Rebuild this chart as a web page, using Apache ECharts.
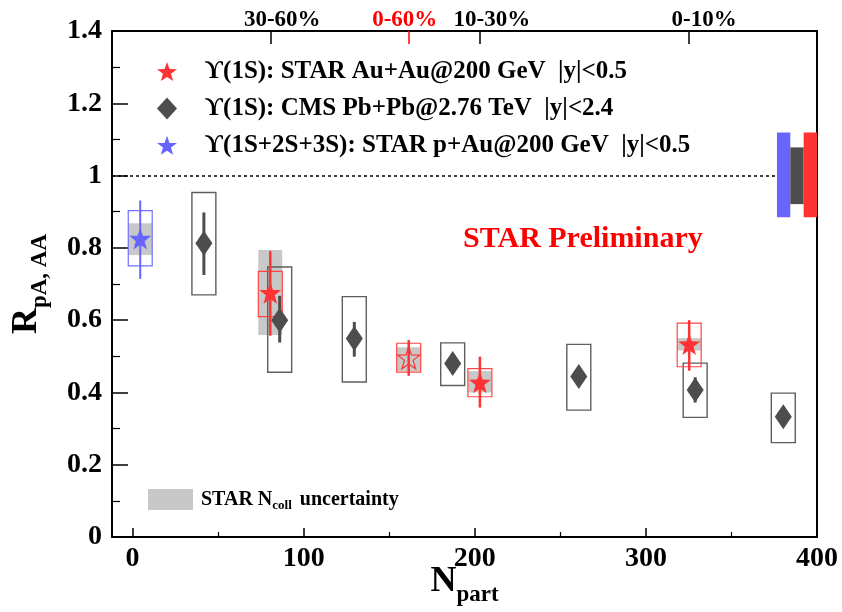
<!DOCTYPE html>
<html><head><meta charset="utf-8">
<script src="https://cdn.jsdelivr.net/npm/echarts@6/dist/echarts.min.js"></script>
<style>html,body{margin:0;padding:0;background:#fff}#c{width:842px;height:612px}</style>
</head><body><div id="c"></div><script>
// ---------------- data ----------------
// STAR Au+Au 200 GeV, Upsilon(1S), centrality bins 30-60%, 10-30%, 0-10%
const auauNpart   = [80.5, 203.0, 325.3];
const auauRaa     = [0.676, 0.428, 0.534];
const auauStatLo  = [0.557, 0.358, 0.460];
const auauStatHi  = [0.791, 0.499, 0.600];
const auauSysLo   = [0.610, 0.388, 0.471];
const auauSysHi   = [0.735, 0.466, 0.592];
const auauNcollLo = [0.559, 0.400, 0.516];
const auauNcollHi = [0.794, 0.459, 0.550];
const auauCentLabels = ['30-60%', '10-30%', '0-10%'];
// STAR Au+Au 0-60% (open star)
const mbNpart   = [161.4];
const mbRaa     = [0.496];
const mbStatLo  = [0.446];
const mbStatHi  = [0.545];
const mbSysLo   = [0.456];
const mbSysHi   = [0.536];
const mbNcollLo = [0.459];
const mbNcollHi = [0.525];
const mbLabels  = ['0-60%'];
// CMS Pb+Pb 2.76 TeV
const cmsNpart  = [41.7, 86.0, 129.6, 187.1, 260.8, 328.8, 380.3];
const cmsRaa    = [0.813, 0.600, 0.549, 0.480, 0.444, 0.407, 0.333];
const cmsStatLo = [0.725, 0.538, 0.499, 0.455, 0.420, 0.372, 0.313];
const cmsStatHi = [0.898, 0.667, 0.595, 0.505, 0.468, 0.442, 0.353];
const cmsSysLo  = [0.670, 0.456, 0.429, 0.419, 0.351, 0.331, 0.261];
const cmsSysHi  = [0.953, 0.747, 0.665, 0.537, 0.533, 0.481, 0.398];
// STAR p+Au 200 GeV, Upsilon(1S+2S+3S)
const pauNpart   = [4.5];
const pauRaa     = [0.826];
const pauStatLo  = [0.714];
const pauStatHi  = [0.931];
const pauSysLo   = [0.750];
const pauSysHi   = [0.903];
const pauNcollLo = [0.780];
const pauNcollHi = [0.868];
// global uncertainties around unity [lo, hi]
const globalPAu  = [0.885, 1.119];
const globalCms  = [0.921, 1.078];
const globalAuAu = [0.885, 1.119];
// axis ticks
const xMajorTicks = [0, 100, 200, 300, 400];
const xMinorTicks = [50, 150, 250, 350];

const nameAuAu = 'ϒ(1S): STAR Au+Au@200 GeV  |y|<0.5';
const nameCms  = 'ϒ(1S): CMS Pb+Pb@2.76 TeV  |y|<2.4';
const namePAu  = 'ϒ(1S+2S+3S): STAR p+Au@200 GeV  |y|<0.5';
const nameNcoll = 'STAR Ncoll uncertainty';

// ---------------- styling / helpers ----------------
const FONT = "'Liberation Serif', 'Times New Roman', serif";
const RED = '#ff3333', BLUE = '#6666ff', DARK = '#4d4d4d';
const X_MIN = -12, X_MAX = 400;
const HALF_W = 7;          // box half width (Npart units)
const GBAR_W = 7.8;        // global bar width (Npart units)
const STAR = 'path://M0,-10L2.35,-3.24L9.51,-3.09L3.8,1.24L5.88,8.09L0,4.2L-5.88,8.09L-3.8,1.24L-9.51,-3.09L-2.35,-3.24Z';

function triples(xs, lo, hi) { return xs.map((x, i) => [x, lo[i], hi[i]]); }
function boxSeries(name, xs, lo, hi, style, z) {
  return {
    type: 'custom', name: name, z: z, silent: true, itemStyle: { color: style.fill !== 'none' ? style.fill : style.stroke },
    data: triples(xs, lo, hi), encode: { x: 0, y: [1, 2] },
    renderItem: function (p, api) {
      const x = api.value(0);
      const a = api.coord([x - HALF_W, api.value(2)]);
      const b = api.coord([x + HALF_W, api.value(1)]);
      return { type: 'rect', shape: { x: a[0], y: a[1], width: b[0] - a[0], height: b[1] - a[1] }, style: style };
    }
  };
}
function errSeries(xs, lo, hi, color, width, z) {
  return {
    type: 'custom', z: z, silent: true, data: triples(xs, lo, hi), encode: { x: 0, y: [1, 2] },
    renderItem: function (p, api) {
      const a = api.coord([api.value(0), api.value(1)]);
      const b = api.coord([api.value(0), api.value(2)]);
      return { type: 'line', shape: { x1: a[0], y1: a[1], x2: b[0], y2: b[1] }, style: { stroke: color, lineWidth: width } };
    }
  };
}
function globalSeries(range, slot, color) {
  return {
    type: 'custom', z: 3, silent: true, data: [[range[0], range[1]]], encode: { y: [0, 1] },
    renderItem: function (p, api) {
      const x0 = X_MAX - (3 - slot) * GBAR_W;
      const a = api.coord([x0, api.value(1)]);
      const b = api.coord([x0 + GBAR_W, api.value(0)]);
      return { type: 'rect', shape: { x: a[0], y: a[1], width: b[0] - a[0], height: b[1] - a[1] }, style: { fill: color } };
    }
  };
}

const topLabelPad = [[0, 0, 0, 24], [0, 0, 0, 24], [0, 0, 0, 30]];
const topRich = {};
topLabelPad.forEach((pad, i) => { topRich['c' + i] = { padding: pad, fontFamily: FONT, fontWeight: 'bold', fontSize: 23, color: '#000' }; });

const chart = echarts.init(document.getElementById('c'), null, { renderer: 'canvas' });
chart.setOption({
  backgroundColor: '#fff',
  animation: false,
  grid: { left: 112, right: 25, top: 31, bottom: 75, containLabel: false, outerBoundsMode: 'none' },
  xAxis: [
    { type: 'value', position: 'bottom', min: X_MIN, max: X_MAX,
      name: '{n|N}{s|part}', nameLocation: 'middle', nameGap: 20, nameMoveOverlap: false,
      nameTextStyle: { rich: {
        n: { fontFamily: FONT, fontWeight: 'bold', fontSize: 36, color: '#000', lineHeight: 50, verticalAlign: 'middle' },
        s: { fontFamily: FONT, fontWeight: 'bold', fontSize: 23, color: '#000', lineHeight: 23, verticalAlign: 'bottom' } } },
      axisLine: { onZero: false, lineStyle: { color: '#000', width: 2 } },
      axisTick: { inside: true, length: 9, lineStyle: { color: '#000', width: 1.5 }, customValues: xMajorTicks },
      axisLabel: { customValues: xMajorTicks, margin: 8, fontFamily: FONT, fontWeight: 'bold', fontSize: 28, color: '#000' },
      splitLine: { show: false } },
    { type: 'value', position: 'bottom', min: X_MIN, max: X_MAX,
      axisLine: { show: false, onZero: false },
      axisTick: { inside: true, length: 5, lineStyle: { color: '#000', width: 1.2 }, customValues: xMinorTicks },
      axisLabel: { show: false }, splitLine: { show: false } },
    { type: 'value', position: 'top', min: X_MIN, max: X_MAX,
      axisLine: { onZero: false, lineStyle: { color: '#000', width: 2 } },
      axisTick: { inside: true, length: 13, lineStyle: { color: '#000', width: 1.5 }, customValues: auauNpart },
      axisLabel: { customValues: auauNpart, margin: -1, rich: topRich,
        formatter: function (v) { const i = auauNpart.indexOf(v); return '{c' + i + '|' + auauCentLabels[i] + '}'; } },
      splitLine: { show: false } },
    { type: 'value', position: 'top', min: X_MIN, max: X_MAX,
      axisLine: { show: false, onZero: false },
      axisTick: { inside: true, length: 13, lineStyle: { color: '#ff0000', width: 1.5 }, customValues: mbNpart },
      axisLabel: { customValues: mbNpart, margin: -1,
        rich: { r: { padding: [0, 8, 0, 0], fontFamily: FONT, fontWeight: 'bold', fontSize: 23, color: '#ff0000' } },
        formatter: function (v) { return '{r|' + mbLabels[0] + '}'; } },
      splitLine: { show: false } }
  ],
  yAxis: [
    { type: 'value', position: 'left', min: 0, max: 1.4, interval: 0.2,
      name: '{n|R}{s|pA, AA}', nameLocation: 'middle', nameRotate: 90, nameGap: 60, nameMoveOverlap: false,
      nameTextStyle: { rich: {
        n: { fontFamily: FONT, fontWeight: 'bold', fontSize: 36, color: '#000', lineHeight: 50, verticalAlign: 'middle' },
        s: { fontFamily: FONT, fontWeight: 'bold', fontSize: 23, color: '#000', lineHeight: 23, verticalAlign: 'bottom' } } },
      axisLine: { onZero: false, lineStyle: { color: '#000', width: 2 } },
      axisTick: { inside: true, length: 16, lineStyle: { color: '#000', width: 1.5 } },
      minorTick: { show: true, splitNumber: 2, length: 8, lineStyle: { color: '#000', width: 1.2 } },
      axisLabel: { margin: 10, fontFamily: FONT, fontWeight: 'bold', fontSize: 28, color: '#000' },
      splitLine: { show: false }, minorSplitLine: { show: false } },
    { type: 'value', position: 'right', min: 0, max: 1.4,
      axisLine: { show: true, onZero: false, lineStyle: { color: '#000', width: 2 } },
      axisTick: { show: false }, axisLabel: { show: false }, splitLine: { show: false } }
  ],
  legend: [
    { orient: 'vertical', left: 157, top: 59, padding: 0, itemWidth: 20, itemHeight: 22, itemGap: 11.9,
      selectedMode: false,
      data: [nameAuAu, nameCms, namePAu],
      formatter: function (n) { return '{t|' + n + '}'; },
      textStyle: { rich: { t: { padding: [0, 0, 0, 23], fontFamily: FONT, fontWeight: 'bold', fontSize: 25, lineHeight: 22, color: '#000' } } } },
    { orient: 'vertical', left: 148, top: 489, padding: 0, itemWidth: 45, itemHeight: 21, selectedMode: false,
      data: [{ name: nameNcoll, icon: 'rect' }],
      formatter: function () { return '{a|STAR N}{s|coll}{a| uncertainty}'; },
      textStyle: { rich: {
        a: { fontFamily: FONT, fontWeight: 'bold', fontSize: 20, color: '#000', lineHeight: 26, verticalAlign: 'middle', padding: [0, 0, 0, 3] },
        s: { fontFamily: FONT, fontWeight: 'bold', fontSize: 13, color: '#000', lineHeight: 13, verticalAlign: 'bottom' } } } }
  ],
  graphic: [
    { type: 'text', left: 463, top: 224, z: 10,
      style: { text: 'STAR Preliminary', fill: '#ff0000', font: "bold 30px 'Liberation Serif', serif" } }
  ],
  series: [
    // N_coll uncertainty (gray filled)
    boxSeries(nameNcoll, auauNpart.concat(mbNpart, pauNpart), auauNcollLo.concat(mbNcollLo, pauNcollLo),
      auauNcollHi.concat(mbNcollHi, pauNcollHi), { fill: '#c8c8c8', stroke: 'none' }, 1),
    // systematic boxes
    boxSeries('cmsSys', cmsNpart, cmsSysLo, cmsSysHi, { fill: 'none', stroke: '#5e5e5e', lineWidth: 1.4 }, 2),
    boxSeries('auauSys', auauNpart, auauSysLo, auauSysHi, { fill: 'none', stroke: '#ff4545', lineWidth: 1.2 }, 2),
    boxSeries('mbSys', mbNpart, mbSysLo, mbSysHi, { fill: 'none', stroke: '#ff4545', lineWidth: 1.2 }, 2),
    boxSeries('pauSys', pauNpart, pauSysLo, pauSysHi, { fill: 'none', stroke: '#7070ff', lineWidth: 1.2 }, 2),
    // statistical error bars
    errSeries(cmsNpart, cmsStatLo, cmsStatHi, DARK, 3, 3),
    errSeries(auauNpart, auauStatLo, auauStatHi, RED, 2.5, 3),
    errSeries(mbNpart, mbStatLo, mbStatHi, RED, 2.5, 3),
    errSeries(pauNpart, pauStatLo, pauStatHi, BLUE, 2, 3),
    // global uncertainty bars
    globalSeries(globalPAu, 0, BLUE),
    globalSeries(globalCms, 1, DARK),
    globalSeries(globalAuAu, 2, RED),
    // markers
    { type: 'scatter', name: nameCms, z: 4, symbol: 'diamond', symbolSize: [17, 25],
      itemStyle: { color: DARK, opacity: 1 }, data: cmsNpart.map((x, i) => [x, cmsRaa[i]]),
      markLine: { silent: true, symbol: ['none', 'none'], label: { show: false },
        lineStyle: { color: '#000', type: [3, 3], width: 1.5 },
        data: [[{ coord: [X_MIN, 1] }, { coord: [X_MAX - 3 * GBAR_W, 1] }]] } },
    { type: 'scatter', name: nameAuAu, z: 5, symbol: STAR, symbolSize: 22,
      itemStyle: { color: RED, opacity: 1 }, data: auauNpart.map((x, i) => [x, auauRaa[i]]) },
    { type: 'scatter', name: 'auauMB', z: 5, symbol: STAR, symbolSize: 22,
      itemStyle: { color: 'rgba(0,0,0,0)', borderColor: RED, borderWidth: 1.2, opacity: 1 },
      data: mbNpart.map((x, i) => [x, mbRaa[i]]) },
    { type: 'scatter', name: namePAu, z: 5, symbol: STAR, symbolSize: 22,
      itemStyle: { color: BLUE, opacity: 1 }, data: pauNpart.map((x, i) => [x, pauRaa[i]]) }
  ]
});
</script></body></html>
